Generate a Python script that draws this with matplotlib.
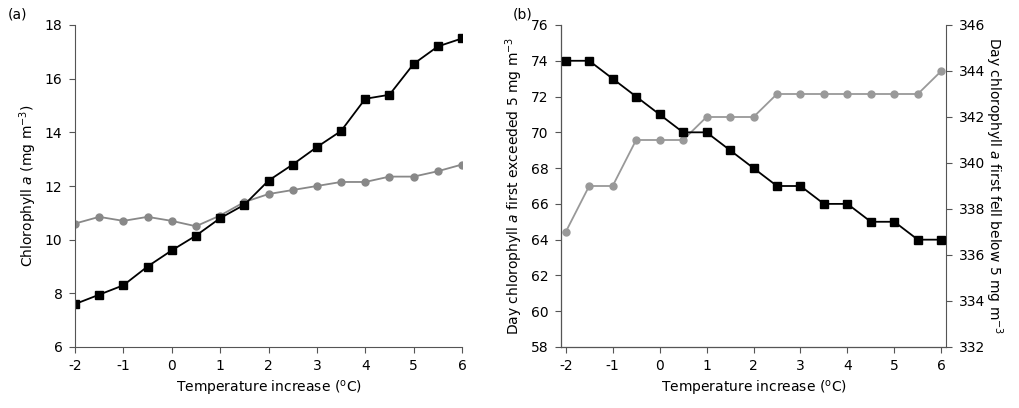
import matplotlib.pyplot as plt
import numpy as np

temp = [-2, -1.5, -1, -0.5, 0, 0.5, 1, 1.5, 2, 2.5, 3, 3.5, 4, 4.5, 5, 5.5, 6]
chl_black = [7.6, 7.95, 8.3, 9.0, 9.6, 10.15, 10.8, 11.3, 12.2, 12.8, 13.45, 14.05, 15.25, 15.4, 16.55, 17.2, 17.5]
chl_grey = [10.6, 10.85, 10.7, 10.85, 10.7, 10.5, 10.9, 11.4, 11.7, 11.85, 12.0, 12.15, 12.15, 12.35, 12.35, 12.55, 12.8]
day_exceed = [74, 74, 73, 72, 71, 70, 70, 69, 68, 67, 67, 66, 66, 65, 65, 64, 64]
day_fall = [337, 339, 339, 341, 341, 341, 342, 342, 342, 343, 343, 343, 343, 343, 343, 343, 344]

plt.rcParams['font.family'] = 'DejaVu Sans'
plt.rcParams['font.size'] = 10
plt.rcParams['axes.unicode_minus'] = False
fig = plt.figure(figsize=(10.19, 4.08), dpi=100)
W, H = 1019, 408

def style(ax):
    for s in ['top', 'right']:
        ax.spines[s].set_visible(False)
    for s in ax.spines.values():
        s.set_color('#555555')
    ax.tick_params(direction='out', length=4, color='#555555', pad=5)

ax1 = fig.add_axes([75 / W, 1 - 347 / H, 387 / W, 322 / H])
ax1.plot(temp, chl_grey, '-o', color='#888888', ms=5, lw=1.3)
ax1.plot(temp, chl_black, '-s', color='black', ms=5.5, lw=1.3)
ax1.set_xlim(-2, 6)
ax1.set_ylim(6, 18)
ax1.set_yticks(range(6, 19, 2))
ax1.set_xticks(range(-2, 7))
style(ax1)
ax1.set_xlabel('Temperature increase ($^{\\mathrm{o}}$C)')
ax1.set_ylabel('Chlorophyll $a$ (mg m$^{-3}$)')
fig.text(8 / W, 1 - 18 / H, '(a)')

ax2 = fig.add_axes([561 / W, 1 - 347 / H, 385 / W, 322 / H])
ax3 = ax2.twinx()
ax3.plot(temp, day_fall, '-o', color='#999999', ms=5, lw=1.3)
ax2.plot(temp, day_exceed, '-s', color='black', ms=5.5, lw=1.3, zorder=3)
ax2.set_zorder(ax3.get_zorder() + 1)
ax2.patch.set_visible(False)
ax2.set_xlim(-2.1, 6.1)
ax2.set_ylim(58, 76)
ax2.set_yticks(range(58, 77, 2))
ax3.set_ylim(332, 346)
ax3.set_yticks(range(332, 347, 2))
ax2.set_xticks(range(-2, 7))
style(ax2)
ax3.spines['top'].set_visible(False)
ax3.spines['right'].set_color('#555555')
ax3.tick_params(direction='out', length=4, color='#555555', pad=5)
ax2.set_xlabel('Temperature increase ($^{\\mathrm{o}}$C)')
ax2.set_ylabel('Day chlorophyll $a$ first exceeded 5 mg m$^{-3}$')
ax3.set_ylabel('Day chlorophyll $a$ first fell below 5 mg m$^{-3}$', rotation=270, labelpad=14)
fig.text(513 / W, 1 - 18 / H, '(b)')

fig.savefig('out.png', dpi=100)
